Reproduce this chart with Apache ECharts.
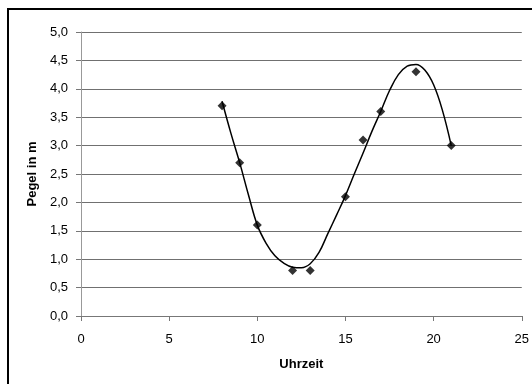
<!DOCTYPE html>
<html>
<head>
<meta charset="utf-8">
<script src="https://cdn.jsdelivr.net/npm/echarts@6/dist/echarts.min.js"></script>
<style>
  html, body { margin: 0; padding: 0; background: #ffffff; }
  #chart { width: 532px; height: 384px; }
</style>
</head>
<body>
<div id="chart"></div>
<script>
// Messpunkte
var uhrzeit = [8, 9, 10, 12, 13, 15, 16, 17, 19, 21];
var pegel = [3.7, 2.7, 1.6, 0.8, 0.8, 2.1, 3.1, 3.6, 4.3, 3.0];

// Trendlinie
var trendX = [8, 8.5, 9, 9.5, 10, 10.5, 11, 11.5, 12, 12.5, 13, 13.5, 14, 14.5, 15, 15.5, 16, 16.5, 17, 17.5, 18, 18.5, 19, 19.5, 20, 20.5, 21];
var trendY = [3.78, 3.22, 2.70, 2.13, 1.60, 1.28, 1.06, 0.93, 0.86, 0.85, 0.92, 1.12, 1.45, 1.78, 2.12, 2.50, 2.87, 3.25, 3.60, 3.97, 4.25, 4.40, 4.43, 4.33, 4.07, 3.62, 3.00];

var punkte = uhrzeit.map(function (x, i) { return [x, pegel[i]]; });
var trend = trendX.map(function (x, i) { return [x, trendY[i]]; });

var myChart = echarts.init(document.getElementById('chart'));
myChart.setOption({
    animation: false,
    backgroundColor: '#ffffff',
    textStyle: { fontFamily: '"Liberation Sans", Arial, sans-serif' },
    graphic: [
        {
            type: 'rect',
            shape: { x: 8, y: 9, width: 600, height: 600 },
            style: { fill: 'none', stroke: '#000', lineWidth: 2 },
            silent: true
        }
    ],
    grid: { left: 81, right: 10, top: 32, bottom: 68 },
    xAxis: {
        type: 'value',
        min: 0,
        max: 25,
        interval: 5,
        name: 'Uhrzeit',
        nameLocation: 'middle',
        nameGap: 42,
        nameTextStyle: { fontSize: 13, fontWeight: 'bold', color: '#000' },
        axisLine: { show: true, lineStyle: { color: '#777', width: 1 } },
        axisTick: { show: true, length: 5, lineStyle: { color: '#777' } },
        axisLabel: { fontSize: 13, color: '#000', margin: 17 },
        splitLine: { show: false }
    },
    yAxis: {
        type: 'value',
        min: 0,
        max: 5,
        interval: 0.5,
        name: 'Pegel in m',
        nameLocation: 'middle',
        nameGap: 42,
        nameTextStyle: { fontSize: 13, fontWeight: 'bold', color: '#000' },
        axisLine: { show: true, lineStyle: { color: '#999', width: 1 } },
        axisTick: { show: true, length: 5, lineStyle: { color: '#777' } },
        axisLabel: {
            fontSize: 13,
            color: '#000',
            margin: 13,
            formatter: function (v) { return v.toFixed(1).replace('.', ','); }
        },
        splitLine: { show: true, lineStyle: { color: '#707070', width: 1 } }
    },
    series: [
        {
            name: 'Trend',
            type: 'line',
            data: trend,
            smooth: 0.4,
            showSymbol: false,
            lineStyle: { color: '#000', width: 1.5 },
            z: 2
        },
        {
            name: 'Pegel',
            type: 'scatter',
            data: punkte,
            symbol: 'diamond',
            symbolSize: 9,
            itemStyle: { color: '#000' },
            z: 3
        }
    ]
});
</script>
</body>
</html>
